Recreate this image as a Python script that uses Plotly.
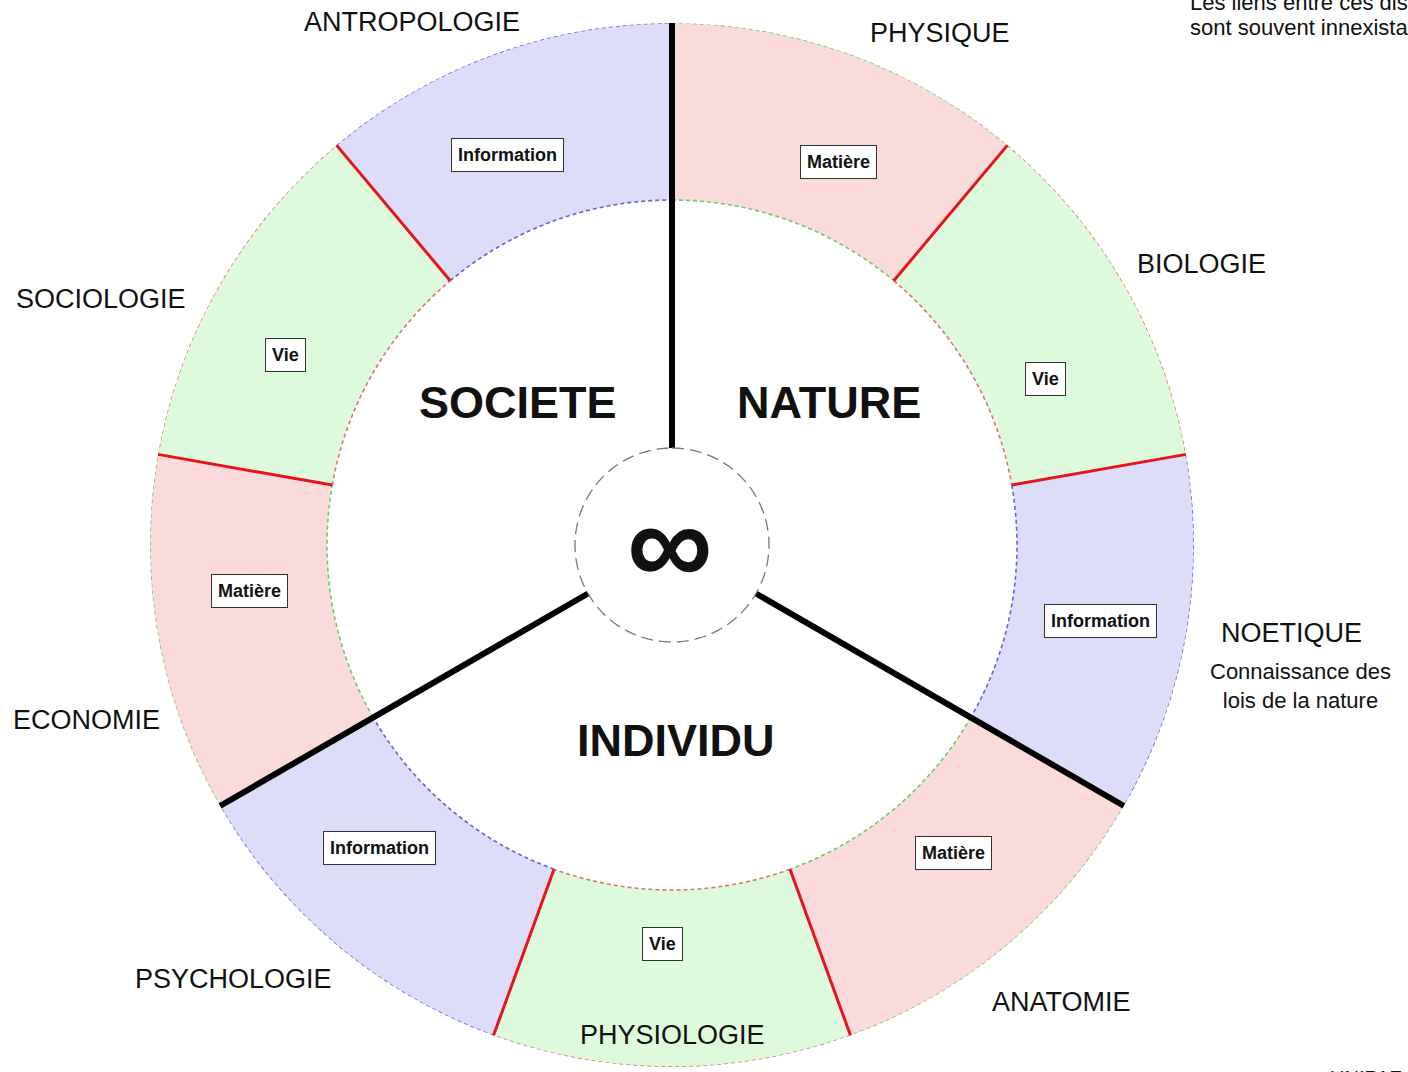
import numpy as np
import plotly.graph_objects as go

# ---------------- data ----------------
disciplines = ["PHYSIQUE", "BIOLOGIE", "NOETIQUE", "ANATOMIE", "PHYSIOLOGIE",
               "PSYCHOLOGIE", "ECONOMIE", "SOCIOLOGIE", "ANTROPOLOGIE"]
kinds = ["Matière", "Vie", "Information", "Matière", "Vie", "Information",
         "Matière", "Vie", "Information"]
domains = ["NATURE", "INDIVIDU", "SOCIETE"]
center_symbol = "∞"
note_lines = ["Les liens entre ces disciplines", "sont souvent innexistants"]
noetique_sub = "Connaissance des<br>lois de la nature"
footer = "UNIPAZ"

# ---------------- geometry / style ----------------
W, H = 1408, 1072
CX, CY = 672, 545
R_OUT, R_IN, R_CORE = 522, 345, 97
SEG = 360 / len(disciplines)

fill = {"Matière": "#FADADA", "Vie": "#DDFADD", "Information": "#DDDDFA"}
edge = {"Matière": "#6CCB6C", "Vie": "#E07272", "Information": "#6464DE"}

# label positions (pixels)
disc_pos = {"PHYSIQUE": (940, 33), "BIOLOGIE": (1201, 264), "NOETIQUE": (1291, 633),
            "ANATOMIE": (1061, 1002), "PHYSIOLOGIE": (672, 1035), "PSYCHOLOGIE": (233, 979),
            "ECONOMIE": (86, 720), "SOCIOLOGIE": (101, 299), "ANTROPOLOGIE": (412, 22)}
box_pos = [(838, 162), (1045, 379), (1100, 621), (953, 853), (662, 944),
           (379, 848), (249, 591), (285, 355), (507, 155)]
domain_pos = {"NATURE": (829, 402), "INDIVIDU": (676, 740), "SOCIETE": (518, 402)}

FONT = "Liberation Sans, Arial, Helvetica, sans-serif"

fig = go.Figure()

# hidden pixel-space cartesian axes for annotations
fig.add_trace(go.Scatter(x=[0, W], y=[0, H], mode="markers",
                         marker=dict(opacity=0), hoverinfo="skip", showlegend=False))

theta_c = [SEG * i + SEG / 2 for i in range(len(disciplines))]

# ring segments
fig.add_trace(go.Barpolar(
    r=[R_OUT - R_IN] * len(disciplines), base=[R_IN] * len(disciplines),
    theta=theta_c, width=[SEG] * len(disciplines),
    marker=dict(color=[fill[k] for k in kinds], line=dict(width=0)),
    hoverinfo="skip", showlegend=False))

# dashed arcs bordering each segment
for i, k in enumerate(kinds):
    th = np.linspace(SEG * i, SEG * (i + 1), 60)
    for rr in (R_IN, R_OUT):
        fig.add_trace(go.Scatterpolar(
            r=[rr] * len(th), theta=th, mode="lines",
            line=dict(color=edge[k], width=1.6, dash="4px,3px"),
            hoverinfo="skip", showlegend=False))

# red separators inside each domain, black separators between domains
for i in range(len(disciplines)):
    ang = SEG * i
    if i % 3 == 0:
        fig.add_trace(go.Scatterpolar(
            r=[R_CORE, R_OUT], theta=[ang, ang], mode="lines",
            line=dict(color="#000000", width=6), hoverinfo="skip", showlegend=False))
    else:
        fig.add_trace(go.Scatterpolar(
            r=[R_IN, R_OUT], theta=[ang, ang], mode="lines",
            line=dict(color="#E8141C", width=3), hoverinfo="skip", showlegend=False))

# central dashed circle
thc = np.linspace(0, 360, 181)
fig.add_trace(go.Scatterpolar(
    r=[R_CORE] * len(thc), theta=thc, mode="lines",
    line=dict(color="#777777", width=1.3, dash="12px,6px"),
    hoverinfo="skip", showlegend=False))

ann = []
def add(text, x, y, size, bold=False, **kw):
    ann.append(dict(x=x, y=y, xref="x", yref="y", text=("<b>%s</b>" % text) if bold else text,
                    showarrow=False, font=dict(family=FONT, size=size, color="#111111"), **kw))

for d in disciplines:
    x, y = disc_pos[d]
    add(d, x, y, 27)
add(noetique_sub, 1300, 686, 22)

for (x, y), k in zip(box_pos, kinds):
    add(k, x, y, 18, bold=True, bgcolor="#FFFFFF", bordercolor="#333333",
        borderwidth=1, borderpad=6)

for d in domains:
    x, y = domain_pos[d]
    add(d, x, y, 45, bold=True)

add(center_symbol, 670, 543, 120, bold=True)

add(note_lines[0], 1188, 2, 22, xanchor="left")
add(note_lines[1], 1188, 27, 22, xanchor="left")

# footer partly below the page edge (as in the reference)
ann.append(dict(x=1328 / W, y=-6 / H, xref="paper", yref="paper", text=footer,
                showarrow=False, xanchor="left", yanchor="middle",
                font=dict(family=FONT, size=20, color="#111111")))

fig.update_layout(
    width=W, height=H, margin=dict(l=0, r=0, t=0, b=0),
    paper_bgcolor="white", plot_bgcolor="white",
    xaxis=dict(range=[0, W], visible=False, domain=[0, 1], fixedrange=True),
    yaxis=dict(range=[H, 0], visible=False, domain=[0, 1], fixedrange=True),
    polar=dict(
        domain=dict(x=[(CX - R_OUT) / W, (CX + R_OUT) / W],
                    y=[(H - CY - R_OUT) / H, (H - CY + R_OUT) / H]),
        bgcolor="rgba(0,0,0,0)",
        radialaxis=dict(range=[0, R_OUT], visible=False, showgrid=False),
        angularaxis=dict(rotation=90, direction="clockwise", visible=False, showgrid=False),
    ),
    annotations=ann,
    showlegend=False,
)

fig.write_html("out.html", config={"displayModeBar": False},
               post_script="document.body.style.margin='0';document.body.style.overflow='hidden';")
